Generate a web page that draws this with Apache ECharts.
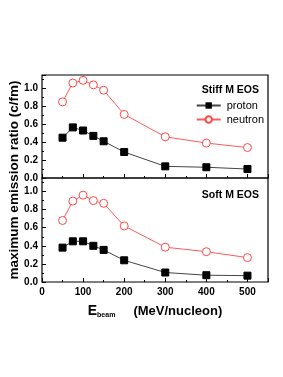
<!DOCTYPE html>
<html><head><meta charset="utf-8">
<script src="https://cdn.jsdelivr.net/npm/echarts@6/dist/echarts.min.js"></script>
<style>html,body{margin:0;padding:0;background:#fff}#c{width:283px;height:377px}</style>
</head><body><div id="c"></div>
<script>
const energies = [50, 75, 100, 125, 150, 200, 300, 400, 500];
const stiffProton  = [0.45, 0.565, 0.53, 0.47, 0.41, 0.29, 0.13, 0.12, 0.10];
const stiffNeutron = [0.85, 1.06, 1.09, 1.04, 0.98, 0.71, 0.46, 0.39, 0.34];
const softProton   = [0.38, 0.45, 0.45, 0.40, 0.355, 0.24, 0.105, 0.075, 0.07];
const softNeutron  = [0.68, 0.895, 0.96, 0.90, 0.87, 0.62, 0.385, 0.335, 0.27];
const panelTitles = ['Stiff M EOS', 'Soft M EOS'];
const pair = (xs, ys) => xs.map((x, i) => [x, ys[i]]);

const F = 'Liberation Sans, Arial, sans-serif';
const chart = echarts.init(document.getElementById('c'));
const xAxisBase = (gi, showLabel) => ({
  gridIndex: gi, type: 'value', min: 0, max: 550, interval: 100,
  axisLine: {show: false},
  axisTick: {show: true, inside: true, length: 4, lineStyle: {color: '#000'}},
  minorTick: {show: true, splitNumber: 2, length: 2, lineStyle: {color: '#000'}},
  splitLine: {show: false},
  axisLabel: {show: showLabel, color: '#000', fontFamily: F, fontWeight: 'bold', fontSize: 10, margin: 5,
    formatter: v => v > 500 ? '' : v}
});
const yAxisBase = (gi) => ({
  gridIndex: gi, type: 'value', min: 0, max: 1.15, interval: 0.2,
  axisLine: {show: false},
  axisTick: {show: true, inside: true, length: 4, lineStyle: {color: '#000'}},
  minorTick: {show: true, splitNumber: 2, length: 2, lineStyle: {color: '#000'}},
  splitLine: {show: false},
  axisLabel: {color: '#000', fontFamily: F, fontWeight: 'bold', fontSize: 10, margin: 4,
    formatter: v => v > 1.05 ? '' : v.toFixed(1)}
});
const protonSeries = (gi, data) => ({
  name: 'proton', type: 'line', xAxisIndex: gi, yAxisIndex: gi, data,
  symbol: 'rect', symbolSize: 7,
  lineStyle: {color: '#444', width: 1},
  itemStyle: {color: '#000', borderColor: '#000'}
});
const neutronSeries = (gi, data) => ({
  name: 'neutron', type: 'line', xAxisIndex: gi, yAxisIndex: gi, data,
  symbol: 'circle', symbolSize: 8,
  lineStyle: {color: '#ff5a5a', width: 1},
  itemStyle: {color: '#fff', borderColor: '#ff4848', borderWidth: 1}
});

chart.setOption({
  animation: false,
  grid: [
    {left: 42, top: 75, width: 226, height: 103, show: true, borderColor: '#000', borderWidth: 1.2},
    {left: 42, top: 178, width: 226, height: 104, show: true, borderColor: '#000', borderWidth: 1.2}
  ],
  xAxis: [xAxisBase(0, false), Object.assign(xAxisBase(1, true), {
    name: '{e|E}{s|beam}     (MeV/nucleon)', nameLocation: 'middle', nameGap: 21,
    nameTextStyle: {color: '#000', fontFamily: F, fontWeight: 'bold', fontSize: 13,
      rich: {e: {fontFamily: F, fontWeight: 'bold', fontSize: 14, color: '#000'},
             s: {fontFamily: F, fontSize: 7, color: '#000', verticalAlign: 'bottom', padding: [9, 0, 0, 0]}}}
  })],
  yAxis: [yAxisBase(0), yAxisBase(1)],
  title: [
    {text: panelTitles[0], right: 19, top: 80, textStyle: {fontFamily: F, fontWeight: 'bold', fontSize: 10.5, color: '#000'}},
    {text: panelTitles[1], right: 19, top: 185, textStyle: {fontFamily: F, fontWeight: 'bold', fontSize: 10.5, color: '#000'}}
  ],
  legend: {
    data: ['proton', 'neutron'], orient: 'vertical', right: 14, top: 95, itemGap: 3,
    itemWidth: 24, itemHeight: 8,
    textStyle: {fontFamily: F, fontSize: 11, color: '#000', padding: [0, 0, 0, 1]}
  },
  graphic: [{
    type: 'text', x: 14, y: 180, rotation: Math.PI / 2,
    style: {text: 'maximum emission ratio (c/fm)', fontFamily: F, fontWeight: 'bold', fontSize: 13.5, fill: '#000',
      textAlign: 'center', textVerticalAlign: 'middle'}
  }],
  series: [
    protonSeries(0, pair(energies, stiffProton)),
    neutronSeries(0, pair(energies, stiffNeutron)),
    protonSeries(1, pair(energies, softProton)),
    neutronSeries(1, pair(energies, softNeutron))
  ]
});
</script></body></html>
